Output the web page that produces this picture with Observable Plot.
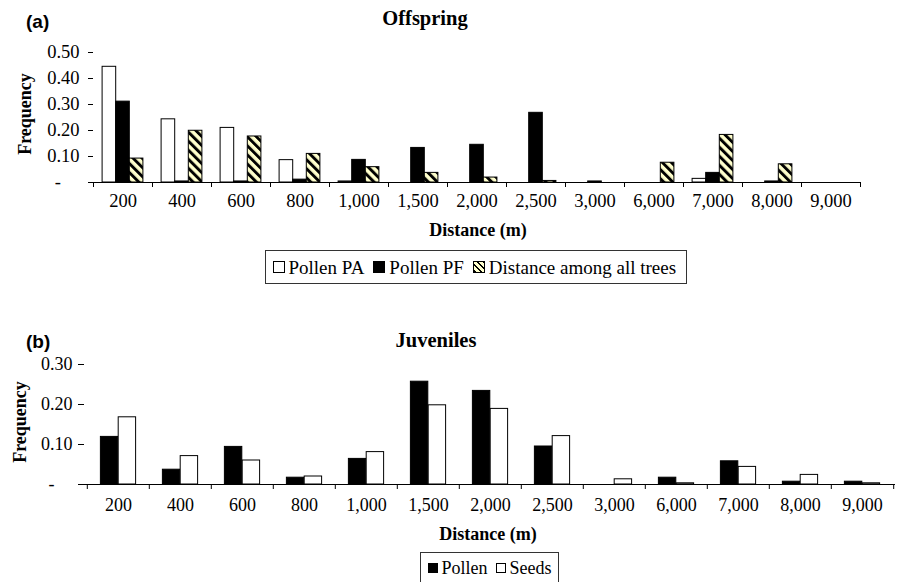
<!DOCTYPE html>
<html><head><meta charset="utf-8">
<script src="https://cdn.jsdelivr.net/npm/d3@7"></script>
<script src="https://cdn.jsdelivr.net/npm/@observablehq/plot@0.6"></script>
<style>
body{margin:0;background:#fff;}
#wrap{position:relative;width:902px;height:582px;overflow:hidden;font-family:"Liberation Serif","Times New Roman",serif;color:#000;background:#fff;}
.abs{position:absolute;white-space:nowrap;line-height:1;}
.c{transform:translate(-50%,-50%);}
.panel{font-family:"Liberation Sans",Arial,sans-serif;font-weight:bold;font-size:19px;transform:translateY(-50%);}
.title{font-weight:bold;font-size:20.5px;}
.xlab{font-weight:bold;font-size:18px;}
.ylab{font-weight:bold;font-size:18px;transform:translate(-50%,-50%) rotate(-90deg);}
.legend{border:1px solid #333;display:flex;align-items:center;box-sizing:border-box;padding-left:7px;}
.sw{display:inline-block;box-sizing:border-box;border:1px solid #000;margin-right:4px;}
.item{display:flex;align-items:center;margin-right:9px;}
.hatch{background:repeating-linear-gradient(45deg,#000 0 1.8px,#ffffcc 1.8px 4.3px);}
svg{position:absolute;left:0;}
</style></head>
<body>
<div id="wrap"></div>
<script>
// ---- data ----
const categories = ["200","400","600","800","1,000","1,500","2,000","2,500","3,000","6,000","7,000","8,000","9,000"];
// (a) Offspring
const pollenPA = [0.445,0.243,0.210,0.086,0.004,0,0,0,0,0,0.014,0,0];
const pollenPF = [0.311,0.004,0.004,0.011,0.087,0.133,0.145,0.268,0.004,0,0.037,0.004,0];
const distAll  = [0.092,0.199,0.177,0.110,0.059,0.037,0.019,0.006,0,0.076,0.183,0.070,0];
// (b) Juveniles
const juvPollen = [0.119,0.037,0.094,0.017,0.064,0.257,0.234,0.095,0,0.017,0.058,0.007,0.007];
const juvSeeds  = [0.168,0.071,0.060,0.020,0.081,0.198,0.189,0.121,0.013,0.003,0.044,0.024,0.003];
// tick labels
const yTicksA = [0,0.1,0.2,0.3,0.4,0.5];
const yLabelsA = ["-\u00a0\u00a0\u00a0\u00a0","0.10","0.20","0.30","0.40","0.50"];
const yTicksB = [0,0.1,0.2,0.3];
const yLabelsB = ["-\u00a0\u00a0\u00a0\u00a0","0.10","0.20","0.30"];
const seriesNamesA = ["Pollen PA","Pollen PF","Distance among all trees"];
const seriesNamesB = ["Pollen","Seeds"];
const titleA = "Offspring", titleB = "Juveniles", xLabel = "Distance (m)", yLabel = "Frequency";

const wrap = document.getElementById("wrap");
const NS = "http://www.w3.org/2000/svg";

function addHatch(svg, id) {
  const defs = document.createElementNS(NS, "defs");
  const pat = document.createElementNS(NS, "pattern");
  pat.setAttribute("id", id);
  pat.setAttribute("patternUnits", "userSpaceOnUse");
  pat.setAttribute("width", "6.4");
  pat.setAttribute("height", "6.4");
  pat.setAttribute("patternTransform", "rotate(-45)");
  const bg = document.createElementNS(NS, "rect");
  bg.setAttribute("width", "6.4"); bg.setAttribute("height", "6.4"); bg.setAttribute("fill", "#ffffcc");
  const st = document.createElementNS(NS, "rect");
  st.setAttribute("width", "2.9"); st.setAttribute("height", "6.4"); st.setAttribute("fill", "#000");
  pat.appendChild(bg); pat.appendChild(st); defs.appendChild(pat);
  svg.insertBefore(defs, svg.firstChild);
}

function panel(o) {
  const band = (o.width - o.marginLeft - o.marginRight) / categories.length;
  const n = o.series.length;
  const pad = (band - n * o.barW) / 2;
  const marks = [];
  o.series.forEach((vals, k) => {
    marks.push(Plot.barY(categories, {
      x: d => d, y: (d, i) => vals[i], fill: o.fills[k], stroke: "#000", strokeWidth: 1,
      insetLeft: pad + k * o.barW, insetRight: band - pad - (k + 1) * o.barW
    }));
  });
  marks.push(
    Plot.ruleY([0], {stroke: "#000"}),
    Plot.axisY(o.yTicks, {tickSize: o.yTickSize, tickPadding: o.yTickPad, line: true, label: null,
      tickFormat: d => o.yLabels[o.yTicks.indexOf(d)]}),
    Plot.axisX(categories, {tickSize: 5, tickFormat: () => "", dx: -band / 2, label: null}),
    Plot.axisX([categories[categories.length - 1]], {tickSize: 5, tickFormat: () => "", dx: band / 2, label: null}),
    Plot.axisX(categories, {tickSize: 0, tickPadding: o.xPad, label: null})
  );
  const svg = Plot.plot({
    width: o.width, height: o.height,
    marginLeft: o.marginLeft, marginRight: o.marginRight, marginTop: o.marginTop, marginBottom: o.marginBottom,
    x: {type: "band", domain: categories, padding: 0},
    y: {domain: [0, o.yMax]},
    style: {fontFamily: '"Liberation Serif","Times New Roman",serif', fontSize: o.fontSize, color: "#000", background: "transparent", overflow: "visible"},
    marks
  });
  addHatch(svg, o.hatchId);
  svg.style.top = o.top + "px";
  wrap.appendChild(svg);
}

panel({
  series: [pollenPA, pollenPF, distAll], fills: ["#fff", "#000", "url(#hatchA)"], hatchId: "hatchA",
  yTicks: yTicksA, yLabels: yLabelsA, yMax: 0.5, yTickSize: 5, yTickPad: 9, xPad: 11, fontSize: "18.5px",
  width: 902, height: 242, marginLeft: 93, marginRight: 42, marginTop: 52, marginBottom: 60, top: 0, barW: 13.6
});
panel({
  series: [juvPollen, juvSeeds], fills: ["#000", "#fff"], hatchId: "hatchB",
  yTicks: yTicksB, yLabels: yLabelsB, yMax: 0.3, yTickSize: 6, yTickPad: 6, xPad: 14, fontSize: "18px",
  width: 902, height: 244, marginLeft: 84, marginRight: 7, marginTop: 64, marginBottom: 60, top: 300, barW: 17.8
});

function addText(txt, cls, left, top) {
  const d = document.createElement("div");
  d.className = "abs " + cls;
  d.textContent = txt;
  d.style.left = left + "px"; d.style.top = top + "px";
  wrap.appendChild(d);
  return d;
}
addText("(a)", "panel", 26, 21);
addText(titleA, "title c", 425, 18);
addText(yLabel, "ylab", 25, 114);
addText(xLabel, "xlab c", 478, 230);
addText("(b)", "panel", 26, 341);
addText(titleB, "title c", 436, 340);
addText(yLabel, "ylab", 20, 422);
addText(xLabel, "xlab c", 488, 534);

function legend(names, swatches, left, top, width, height, swSize, fontSize, gap) {
  const box = document.createElement("div");
  box.className = "abs legend";
  Object.assign(box.style, {left: left + "px", top: top + "px", width: width + "px", height: height + "px", fontSize: fontSize});
  names.forEach((nm, i) => {
    const it = document.createElement("div");
    it.className = "item";
    it.style.marginRight = gap + "px";
    const sw = document.createElement("span");
    sw.className = "sw" + (swatches[i] === "hatch" ? " hatch" : "");
    sw.style.width = swSize + "px"; sw.style.height = swSize + "px";
    if (swatches[i] !== "hatch") sw.style.background = swatches[i];
    const t = document.createElement("span");
    t.textContent = nm;
    it.appendChild(sw); it.appendChild(t);
    box.appendChild(it);
  });
  wrap.appendChild(box);
}
legend(seriesNamesA, ["#fff", "#000", "hatch"], 264.5, 250, 422, 34, 12, "19px", 9);
legend(seriesNamesB, ["#000", "#fff"], 419.5, 552, 139, 31, 10, "18px", 8);
</script>
</body></html>
